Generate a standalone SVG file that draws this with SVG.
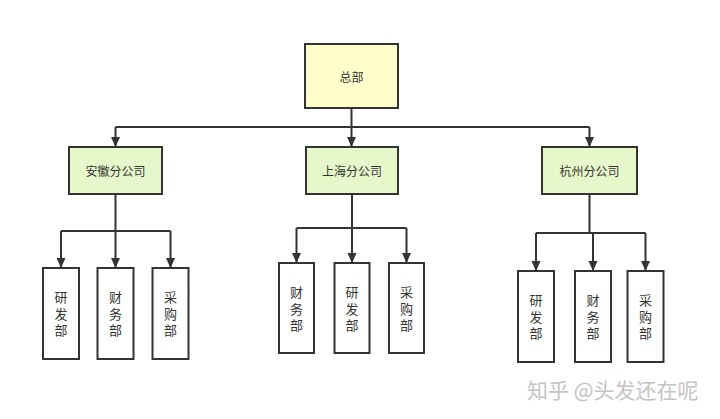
<svg xmlns="http://www.w3.org/2000/svg" width="720" height="419" viewBox="0 0 720 419">
<defs>
<style>
.box{stroke:#333;stroke-width:2;}
.top{fill:#ffffcc;}
.br{fill:#e6f7c9;}
.dep{fill:#ffffff;}
.t{font-family:"Noto Sans CJK SC","Noto Sans",sans-serif;font-size:12px;fill:#333;text-anchor:middle;dominant-baseline:central;}
.v{font-family:"Noto Sans CJK SC","Noto Sans",sans-serif;font-size:13px;fill:#333;text-anchor:middle;writing-mode:vertical-rl;letter-spacing:3.5px;}
.c{fill:none;stroke:#333;stroke-width:2;marker-end:url(#ah);}
.ln{fill:none;stroke:#333;stroke-width:2;}
.wm{font-family:"Noto Sans CJK SC","Noto Sans",sans-serif;font-size:21px;fill:#c4c4c4;}
</style>
<marker id="ah" markerUnits="userSpaceOnUse" markerWidth="10" markerHeight="12" refX="10" refY="5" orient="auto" viewBox="0 0 10 10">
<path d="M0,0.5 L10,5 L0,9.5 z" fill="#333"/>
</marker>
</defs>
<rect width="720" height="419" fill="#ffffff"/>
<g id="connectors">
<path class="ln" d="M351.5 108 V127 H115.5 M351.5 127 H589.5"/>
<path class="c" d="M115.5 127 V147"/>
<path class="c" d="M351.5 127 V147"/>
<path class="c" d="M589.5 127 V147"/>
<path class="ln" d="M115.5 194 V231 M61 231 H170.5"/>
<path class="c" d="M61 231 V268"/>
<path class="c" d="M115.5 231 V268"/>
<path class="c" d="M170.5 231 V268"/>
<path class="ln" d="M352 194 V228 M296.5 228 H406.5"/>
<path class="c" d="M296.5 228 V263"/>
<path class="c" d="M352 228 V263"/>
<path class="c" d="M406.5 228 V263"/>
<path class="ln" d="M589.5 194 V233 M536 233 H645.5"/>
<path class="c" d="M536 233 V271"/>
<path class="c" d="M593 233 V271"/>
<path class="c" d="M645.5 233 V271"/>
</g>
<g id="hq"><rect class="box top" x="305" y="44" width="93" height="64"/><text class="t" x="351.5" y="76">总部</text></g>
<g id="anhui"><rect class="box br" x="69" y="147" width="93" height="47"/><text class="t" x="115.5" y="170.5">安徽分公司</text></g>
<g id="shanghai"><rect class="box br" x="306" y="147" width="92" height="47"/><text class="t" x="352" y="170.5">上海分公司</text></g>
<g id="hangzhou"><rect class="box br" x="542" y="147" width="95" height="47"/><text class="t" x="589.5" y="170.5">杭州分公司</text></g>
<g id="ah-rd"><rect class="box dep" x="43" y="268" width="36" height="91"/><text class="v" x="61" y="315.5">研发部</text></g>
<g id="ah-fin"><rect class="box dep" x="97.5" y="268" width="36" height="91"/><text class="v" x="115.5" y="315.5">财务部</text></g>
<g id="ah-pur"><rect class="box dep" x="152.5" y="268" width="36" height="91"/><text class="v" x="170.5" y="315.5">采购部</text></g>
<g id="sh-fin"><rect class="box dep" x="279" y="263" width="35" height="90"/><text class="v" x="296.5" y="310.5">财务部</text></g>
<g id="sh-rd"><rect class="box dep" x="334.5" y="263" width="35" height="90"/><text class="v" x="352" y="310.5">研发部</text></g>
<g id="sh-pur"><rect class="box dep" x="389" y="263" width="35" height="90"/><text class="v" x="406.5" y="310.5">采购部</text></g>
<g id="hz-rd"><rect class="box dep" x="518" y="271" width="36" height="91"/><text class="v" x="536" y="318.5">研发部</text></g>
<g id="hz-fin"><rect class="box dep" x="575" y="271" width="36" height="91"/><text class="v" x="593" y="318.5">财务部</text></g>
<g id="hz-pur"><rect class="box dep" x="627.5" y="271" width="36" height="91"/><text class="v" x="645.5" y="318.5">采购部</text></g>
<text class="wm" x="527" y="398">知乎 @头发还在呢</text>
</svg>
